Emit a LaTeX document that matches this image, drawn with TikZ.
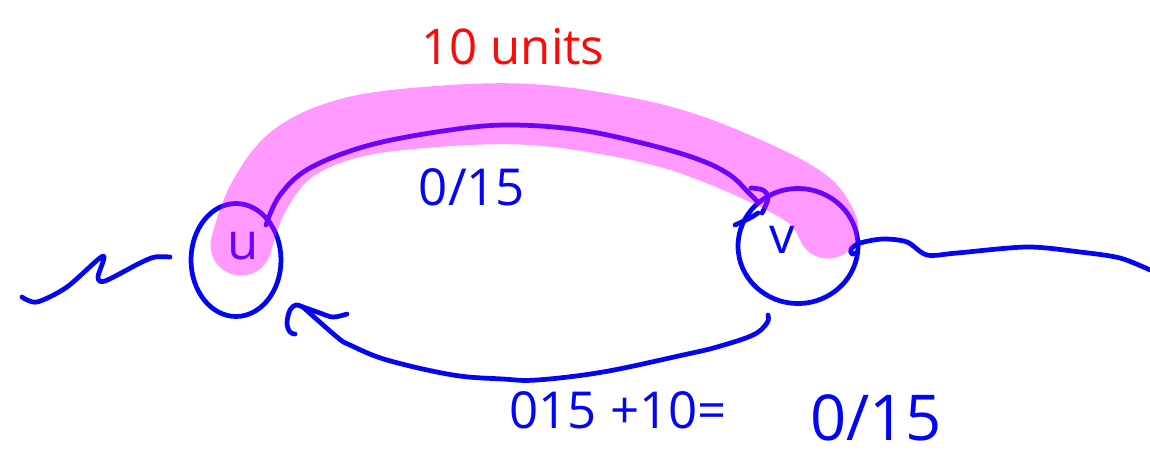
\documentclass[tikz,border=0pt]{standalone}
\usepackage{fontspec}
\setmainfont{Open Sans}
\usetikzlibrary{shapes.geometric}
\definecolor{ink}{RGB}{5,5,245}
\definecolor{redink}{RGB}{250,10,10}
\definecolor{marker}{RGB}{255,0,255}
\begin{document}
\begin{tikzpicture}[x=0.02cm,y=-0.02cm,
  pen/.style={draw=ink, line width=2.7pt, line cap=round, line join=round},
  vertex/.style={ellipse, draw=ink, line width=2.7pt, inner sep=0pt},
  highlighter/.style={draw=marker, opacity=0.4, line width=1.22cm, line cap=round, line join=round},
  handtext/.style={text=ink, font=\fontsize{29}{31}\selectfont, inner sep=0pt}
]
\useasboundingbox (0,0) rectangle (1150,467);

% vertices
\node[vertex, minimum width=1.8cm, minimum height=2.26cm] (u) at (236,260) {};
\node[vertex, minimum width=2.4cm, minimum height=2.3cm] (v) at (798,246) {};
\node[handtext] (ulab) at (243,246) {u};
\node[handtext] (vlab) at (782,240) {v};

% free ends of the hand-drawn strokes
\coordinate (lin) at (22,297);
\coordinate (lend) at (170,257);
\coordinate (rout) at (1150,270);
\coordinate (back) at (768,315);
\coordinate (backtip) at (303,307);

% forward edge u -> v
\draw[pen] plot[smooth, tension=0.6] coordinates {(266,225) (280,195) (310,168) (370,145) (450,130) (510,125) (580,130) (650,145) (700,160) (730,175) (748,192) (758,202)};
\draw[pen] plot[smooth, tension=0.6] coordinates {(751,188) (763,190) (768,197) (765,207) (762,213)};
\draw[pen] plot[smooth, tension=0.6] coordinates {(735,225) (750,218) (758,213)};

% backward edge v -> u
\draw[pen] plot[smooth, tension=0.6] coordinates {(back) (767,323) (753,335) (717,347) (683,355) (603,372) (537,380) (503,379) (453,375) (387,360) (350,345) (337,337) (backtip)};
\draw[pen] plot[smooth, tension=0.6] coordinates {(347,314) (333,317) (320,313) (backtip) (296,305) (290,310) (287,323) (290,332) (295,334)};

% incoming and outgoing paths
\draw[pen] plot[smooth, tension=0.5] coordinates {(lin) (37,302) (67,287) (103,256) (98,277) (105,281) (140,263) (155,257) (lend)};
\draw[pen] plot[smooth, tension=0.5] coordinates {(858,252) (852,254) (851,249) (860,243) (883,239) (907,242) (927,255) (957,253) (1027,247) (1080,252) (1120,258) (rout)};

% highlighted augmenting path
\draw[highlighter] plot[smooth, tension=0.6] coordinates {(241,245) (258,198) (292,154) (350,128) (430,117) (520,114) (600,123) (680,141) (760,173) (810,201) (828,228)};

% labels
\node[text=redink, font=\fontsize{28}{30}\selectfont, inner sep=0pt] (units) at (513,47) {10 units};
\node[handtext] (cap1) at (472,187) {0/15};
\node[handtext] (sum) at (618,410) {015 +10=};
\node[handtext, font=\fontsize{36}{38}\selectfont] (cap2) at (876,418) {0/15};
\end{tikzpicture}
\end{document}
